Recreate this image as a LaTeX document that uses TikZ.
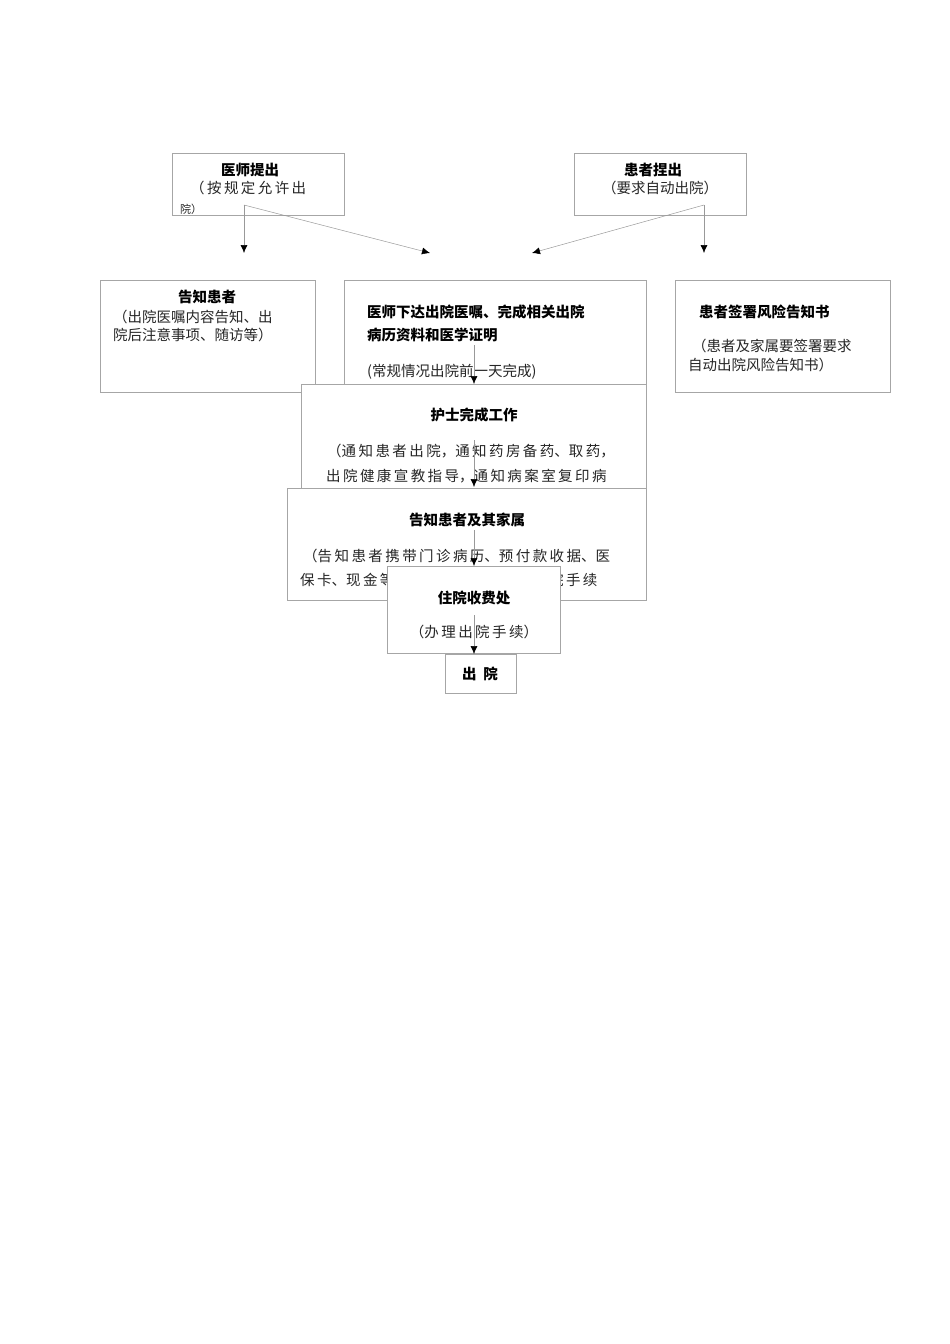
\documentclass[tikz,border=0pt]{standalone}
\usepackage{fontspec}
\usetikzlibrary{arrows.meta}
\setmainfont{Noto Sans CJK SC}
\begin{document}
\begin{tikzpicture}[x=1pt,y=-1pt,
  bx/.style={draw=black!35,fill=white,line width=0.6pt},
  tt/.style={font=\fontsize{14.5}{17}\selectfont\bfseries,inner sep=0},
  bd/.style={font=\fontsize{14.5}{17}\selectfont,inner sep=0,text=black!85},
  ar/.style={draw=black!40,line width=0.5pt,-{Latex[black,length=8pt,width=7pt]}}]
\useasboundingbox (0,0) rectangle (950,1344);
% A
\draw[bx] (172,153) rectangle (344,215);
\coordinate (a1) at (244,205);
\node[tt] (at) at (250,170) {医师提出};
\begin{scope}\clip (172,153) rectangle (344,215);
\node[bd,anchor=west] (ab) at (190,188) {（\,按\,规\,定\,允\,许\,出};
\node[bd,anchor=west,font=\fontsize{11}{13}\selectfont] (ab2) at (180,209) {院）};
\end{scope}
% B
\draw[bx] (574,153) rectangle (746,215);
\coordinate (b1) at (704,205);
\node[tt] (bt) at (653,170) {患者捏出};
\node[bd] (bb) at (660,188) {（要求自动出院）};
% C
\draw[bx] (100,280) rectangle (315,392);
\node[tt] (ct) at (207,297) {告知患者};
\node[bd,anchor=west] (cb1) at (113,317) {（出院医嘱内容告知、出};
\node[bd,anchor=west] (cb2) at (113,335) {院后注意事项、随访等）};
% D
\draw[bx] (344,280) rectangle (646,392);
\node[tt,anchor=west] (dt1) at (367,312) {医师下达出院医嘱、完成相关出院};
\node[tt,anchor=west] (dt2) at (367,335) {病历资料和医学证明};
\node[bd,anchor=west] (db) at (367,372) {(常规情况出院前一天完成)};
% F
\draw[bx] (675,280) rectangle (890,392);
\node[tt,anchor=west] (ft) at (699,312) {患者签署风险告知书};
\node[bd,anchor=west] (fb1) at (692,346) {（患者及家属要签署要求};
\node[bd,anchor=west] (fb2) at (688,365) {自动出院风险告知书）};
% E
\draw[bx] (301,384) rectangle (646,500);
\node[tt] (et) at (474,415) {护士完成工作};
\node[bd,anchor=west] (eb1) at (327,451) {（通\,知\,患\,者\,出\,院，通\,知\,药\,房\,备\,药、取\,药，};
\node[bd,anchor=west] (eb2) at (326,476) {出\,院\,健\,康\,宣\,教\,指\,导，通\,知\,病\,案\,室\,复\,印\,病};
\node[bd,anchor=west] (eb3) at (326,500) {历};
% G
\draw[bx] (287,488) rectangle (646,600);
\node[tt] (gt) at (467,520) {告知患者及其家属};
\node[bd,anchor=west] (gb1) at (303,556) {（告\,知\,患\,者\,携\,带\,门\,诊\,病\,历、预\,付\,款\,收\,据、医};
\node[bd,anchor=west] (gb2) at (300,580) {保\,卡、现\,金\,等\,到\,住\,院\,收\,费\,处\,办\,理\,出\,院\,手\,续};
% H
\draw[bx] (387,566) rectangle (560,653);
\node[tt] (ht) at (474,598) {住院收费处};
\node[bd] (hb) at (474,632) {（办\,理\,出\,院\,手\,续）};
% I
\draw[bx] (445,654) rectangle (516,693);
\node[tt] (it) at (480,674) {出\ \ 院};
% arrows
\coordinate (d0) at (474,345);
\coordinate (e0) at (474,440);
\coordinate (g0) at (474,530);
\coordinate (h0) at (474,615);
\draw[ar] (a1) -- (244,253);
\draw[ar] (a1) -- (430,253);
\draw[ar] (b1) -- (532,253);
\draw[ar] (b1) -- (704,253);
\draw[ar] (d0) -- (474,384);
\draw[ar] (e0) -- (474,487);
\draw[ar] (g0) -- (474,566);
\draw[ar] (h0) -- (474,654);
\end{tikzpicture}
\end{document}
